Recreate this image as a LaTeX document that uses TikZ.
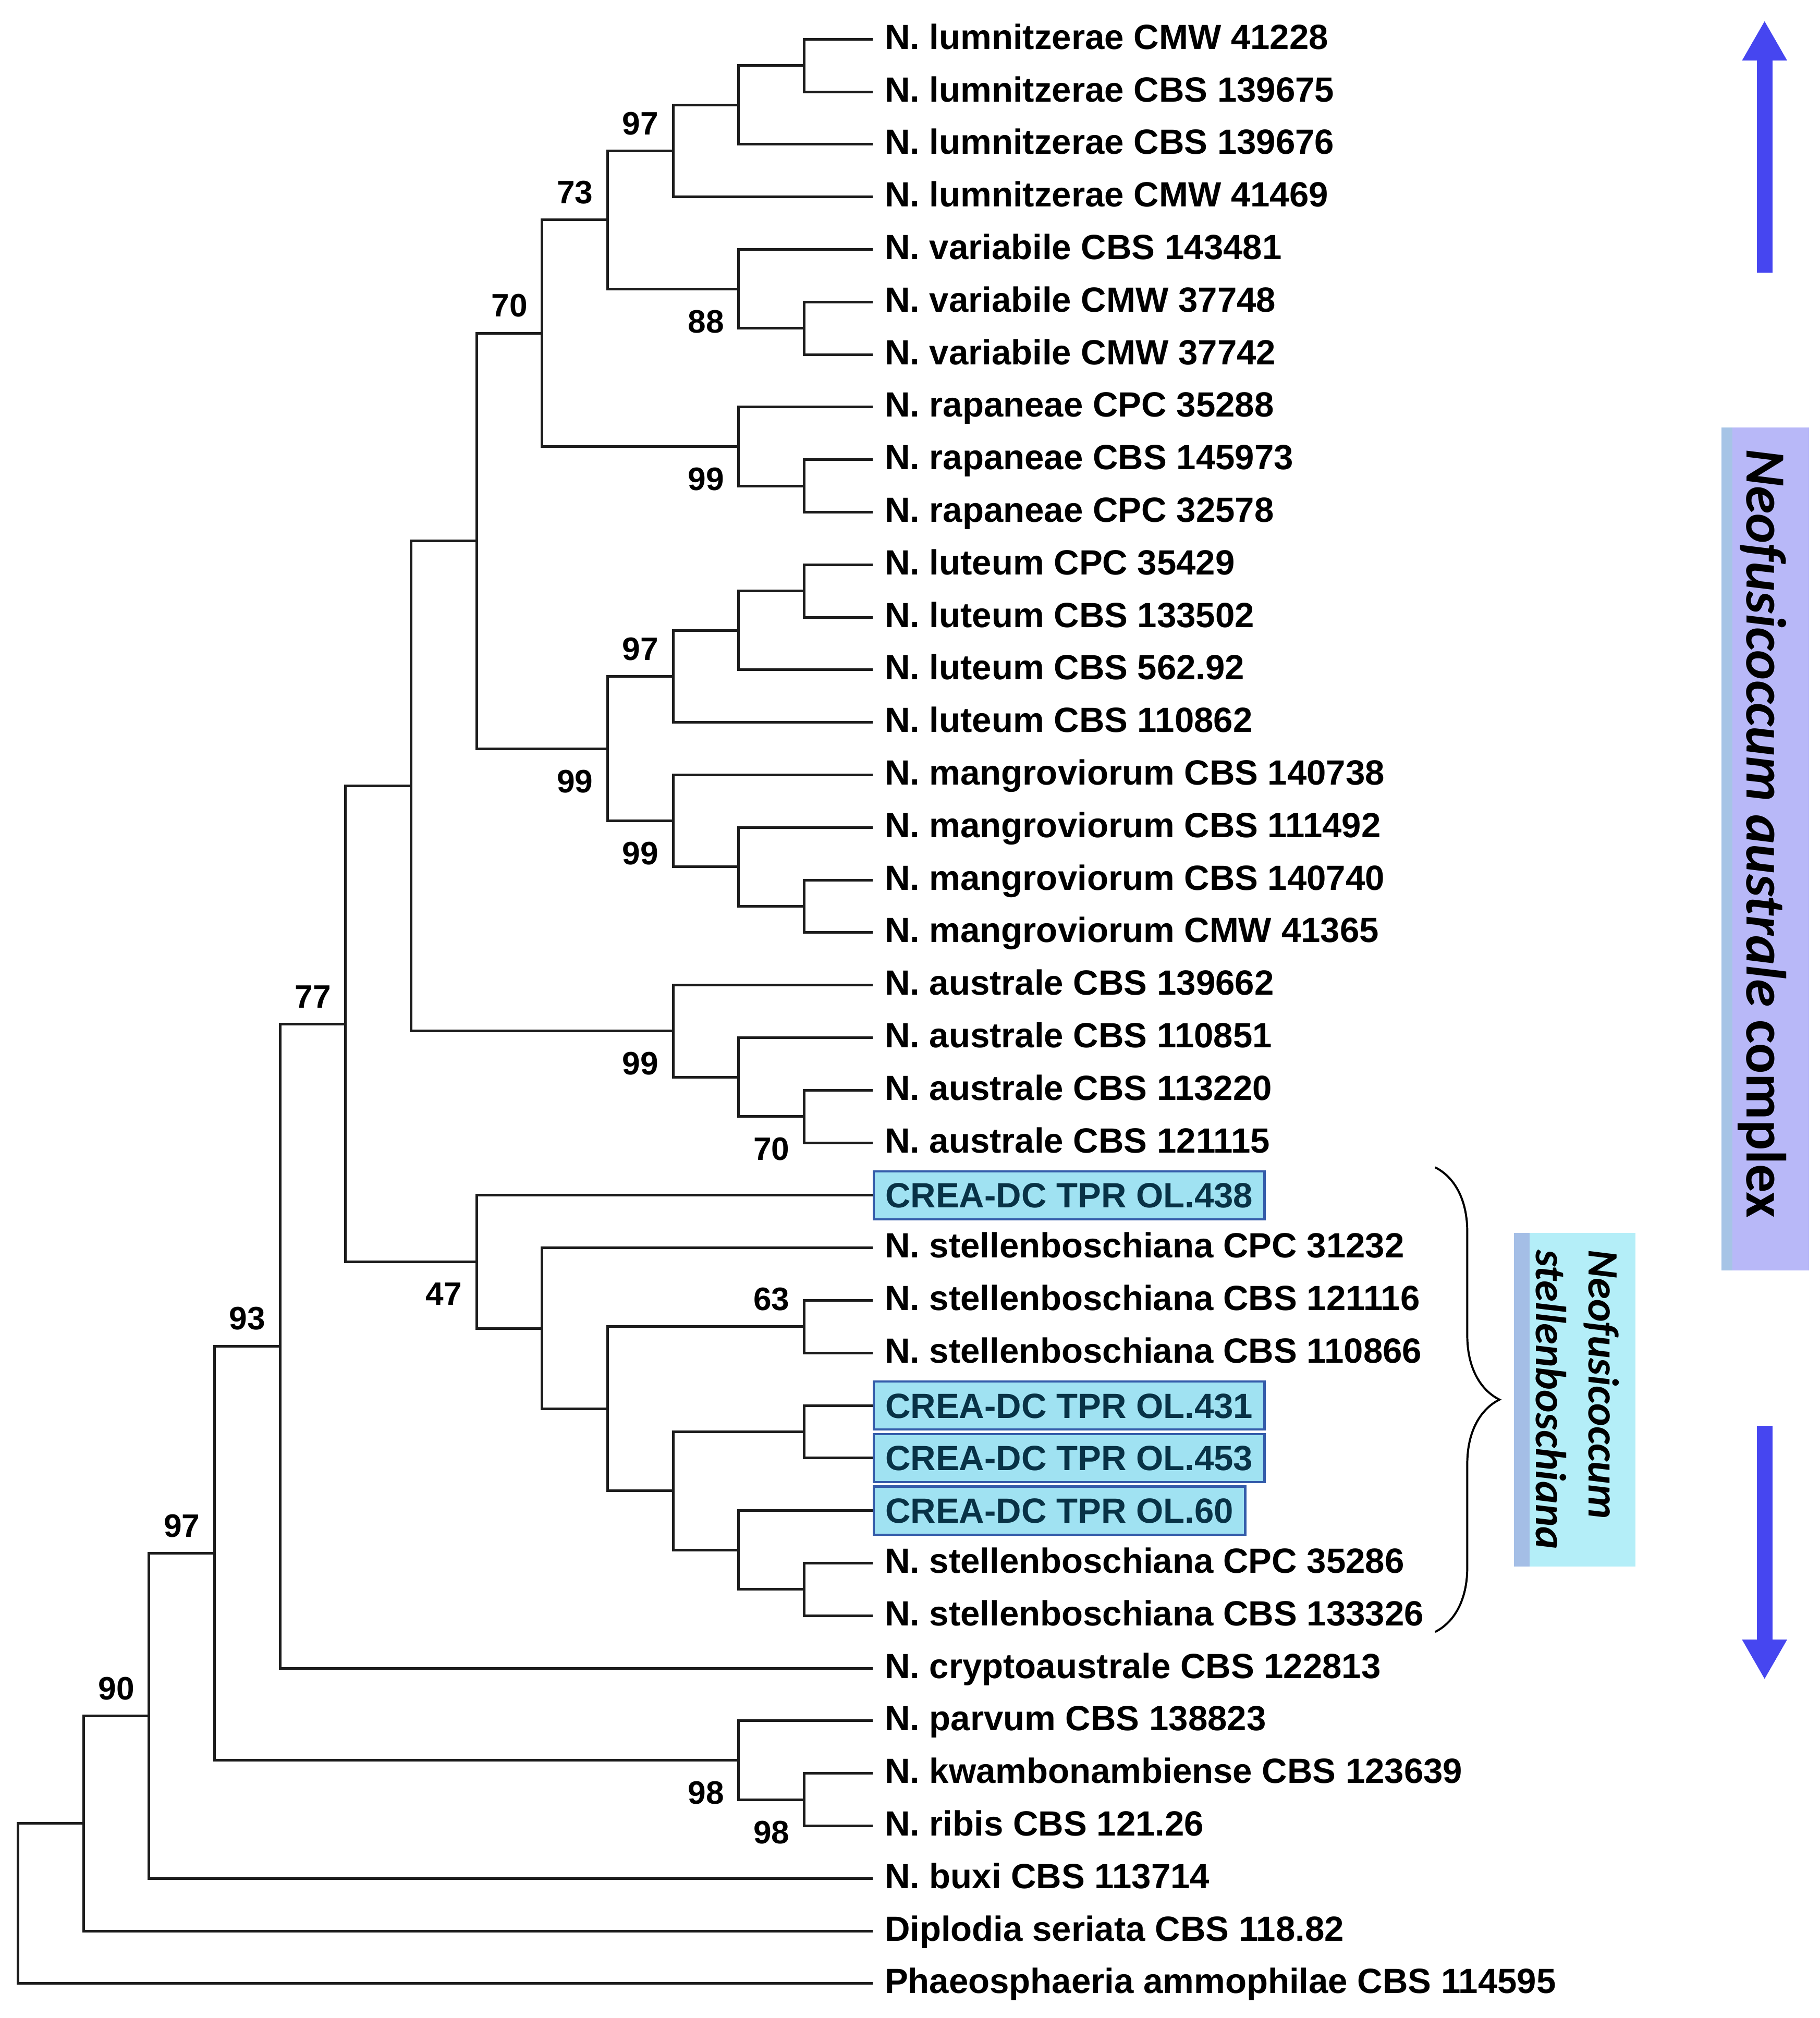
\documentclass[tikz,border=0pt]{standalone}
\usepackage{fontspec}
\setmainfont{Liberation Sans}
\newfontfamily\calfont{Carlito}
\usetikzlibrary{arrows.meta,decorations.pathreplacing}

\definecolor{treeline}{RGB}{28,28,28}
\definecolor{isofill}{RGB}{160,226,242}
\definecolor{isodraw}{RGB}{52,92,170}
\definecolor{isotext}{RGB}{8,50,70}
\definecolor{cplxfill}{RGB}{184,184,248}
\definecolor{cplxstrip}{RGB}{166,196,230}
\definecolor{stelfill}{RGB}{180,238,248}
\definecolor{stelstrip}{RGB}{164,190,230}
\definecolor{arrowblue}{RGB}{70,70,240}

\tikzset{
  leaf/.style={anchor=west, inner xsep=4.5pt, inner ysep=0pt, text height=9.7pt,
    text depth=2pt, font=\bfseries\fontsize{13.6}{16}\selectfont},
  isolate/.style={leaf, draw=isodraw, line width=0.9pt, fill=isofill, text=isotext,
    text depth=0pt, inner ysep=4.5pt},
  bs/.style={inner sep=0pt, xshift=-5.5pt, font=\bfseries\fontsize{12.6}{15}\selectfont},
  bsup/.style={bs, anchor=south east, yshift=6pt},
  bsdn/.style={bs, anchor=north east, yshift=-8pt},
  cladebrace/.style={decorate, decoration={brace, amplitude=25pt}, line width=0.8pt},
  bigarrow/.style={draw=arrowblue, line width=6pt, -{Triangle[width=16.3pt,length=15.5pt]}}
}

\begin{document}
\begin{tikzpicture}[x=25.45pt, y=-20.415pt]
  % frame and side marks, in pixel units
  \begin{scope}[shift={(-0.275,0.253)}, x=0.5pt, y=-0.5pt]
    \path[use as bounding box, fill=white] (0,0) rectangle (1414,1568);
    \fill[cplxfill] (1337.5,332) rectangle (1405.5,987);
    \fill[cplxstrip] (1337.5,332) rectangle (1346,987);
    \node[rotate=-90, font=\calfont\bfseries\fontsize{22}{26}\selectfont] (cplx) at (1369,647.5)
      {\textit{Neofusicoccum australe} complex};
    \fill[stelfill] (1176.4,958) rectangle (1270.8,1217);
    \fill[stelstrip] (1176.4,958) rectangle (1188.5,1217);
    \node[rotate=-90, align=left, inner sep=0pt,
      font=\calfont\bfseries\itshape\fontsize{16.8}{20.5}\selectfont] (stel) at (1225.5,1087.5)
      {Neofusicoccum\\stellenboschiana};
    \coordinate (brTop) at (1115,907);
    \coordinate (brBot) at (1115,1268);
    \draw[cladebrace] (brTop) -- (brBot);
    \coordinate (upFrom) at (1371,212);
    \coordinate (upTo) at (1371,16);
    \draw[bigarrow] (upFrom) -- (upTo);
    \coordinate (dnFrom) at (1371,1108);
    \coordinate (dnTo) at (1371,1305);
    \draw[bigarrow] (dnFrom) -- (dnTo);
  \end{scope}

  % taxa
  \path
    (13.045,1) node[leaf] (1) {N. lumnitzerae CMW 41228}
    (13.045,2) node[leaf] (2) {N. lumnitzerae CBS 139675}
    (13.045,3) node[leaf] (3) {N. lumnitzerae CBS 139676}
    (13.045,4) node[leaf] (4) {N. lumnitzerae CMW 41469}
    (13.045,5) node[leaf] (5) {N. variabile CBS 143481}
    (13.045,6) node[leaf] (6) {N. variabile CMW 37748}
    (13.045,7) node[leaf] (7) {N. variabile CMW 37742}
    (13.045,8) node[leaf] (8) {N. rapaneae CPC 35288}
    (13.045,9) node[leaf] (9) {N. rapaneae CBS 145973}
    (13.045,10) node[leaf] (10) {N. rapaneae CPC 32578}
    (13.045,11) node[leaf] (11) {N. luteum CPC 35429}
    (13.045,12) node[leaf] (12) {N. luteum CBS 133502}
    (13.045,13) node[leaf] (13) {N. luteum CBS 562.92}
    (13.045,14) node[leaf] (14) {N. luteum CBS 110862}
    (13.045,15) node[leaf] (15) {N. mangroviorum CBS 140738}
    (13.045,16) node[leaf] (16) {N. mangroviorum CBS 111492}
    (13.045,17) node[leaf] (17) {N. mangroviorum CBS 140740}
    (13.045,18) node[leaf] (18) {N. mangroviorum CMW 41365}
    (13.045,19) node[leaf] (19) {N. australe CBS 139662}
    (13.045,20) node[leaf] (20) {N. australe CBS 110851}
    (13.045,21) node[leaf] (21) {N. australe CBS 113220}
    (13.045,22) node[leaf] (22) {N. australe CBS 121115}
    (13.045,23) node[isolate] (23) {CREA-DC TPR OL.438}
    (13.045,24) node[leaf] (24) {N. stellenboschiana CPC 31232}
    (13.045,25) node[leaf] (25) {N. stellenboschiana CBS 121116}
    (13.045,26) node[leaf] (26) {N. stellenboschiana CBS 110866}
    (13.045,27) node[isolate] (27) {CREA-DC TPR OL.431}
    (13.045,28) node[isolate] (28) {CREA-DC TPR OL.453}
    (13.045,29) node[isolate] (29) {CREA-DC TPR OL.60}
    (13.045,30) node[leaf] (30) {N. stellenboschiana CPC 35286}
    (13.045,31) node[leaf] (31) {N. stellenboschiana CBS 133326}
    (13.045,32) node[leaf] (32) {N. cryptoaustrale CBS 122813}
    (13.045,33) node[leaf] (33) {N. parvum CBS 138823}
    (13.045,34) node[leaf] (34) {N. kwambonambiense CBS 123639}
    (13.045,35) node[leaf] (35) {N. ribis CBS 121.26}
    (13.045,36) node[leaf] (36) {N. buxi CBS 113714}
    (13.045,37) node[leaf] (37) {Diplodia seriata CBS 118.82}
    (13.045,38) node[leaf] (38) {Phaeosphaeria ammophilae CBS 114595};

  % internal nodes (level, mean row of children)
  \coordinate (n1) at (12,1.5);
  \coordinate (n2) at (11,2.25);
  \coordinate (n3) at (10,3.125);
  \coordinate (n4) at (12,6.5);
  \coordinate (n5) at (11,5.75);
  \coordinate (n6) at (9,4.4375);
  \coordinate (n7) at (12,9.5);
  \coordinate (n8) at (11,8.75);
  \coordinate (n9) at (8,6.59375);
  \coordinate (n10) at (12,11.5);
  \coordinate (n11) at (11,12.25);
  \coordinate (n12) at (10,13.125);
  \coordinate (n13) at (12,17.5);
  \coordinate (n14) at (11,16.75);
  \coordinate (n15) at (10,15.875);
  \coordinate (n16) at (9,14.5);
  \coordinate (n17) at (7,10.546875);
  \coordinate (n18) at (12,21.5);
  \coordinate (n19) at (11,20.75);
  \coordinate (n20) at (10,19.875);
  \coordinate (n21) at (6,15.2109);
  \coordinate (n22) at (12,25.5);
  \coordinate (n23) at (12,27.5);
  \coordinate (n24) at (12,30.5);
  \coordinate (n25) at (11,29.75);
  \coordinate (n26) at (10,28.625);
  \coordinate (n27) at (9,27.0625);
  \coordinate (n28) at (8,25.53125);
  \coordinate (n29) at (7,24.265625);
  \coordinate (n30) at (5,19.7383);
  \coordinate (n31) at (4,25.8691);
  \coordinate (n32) at (12,34.5);
  \coordinate (n33) at (11,33.75);
  \coordinate (n34) at (3,29.8096);
  \coordinate (n35) at (2,32.9048);
  \coordinate (n36) at (1,34.9524);
  \coordinate (n37) at (0,36.4762);

  \begin{scope}[color=treeline, line width=1pt]
    \draw (n1) |- (1);
    \draw (n1) |- (2);
    \draw (n2) |- (n1);
    \draw (n2) |- (3);
    \draw (n3) |- (n2);
    \draw (n3) |- (4);
    \draw (n4) |- (6);
    \draw (n4) |- (7);
    \draw (n5) |- (5);
    \draw (n5) |- (n4);
    \draw (n6) |- (n3);
    \draw (n6) |- (n5);
    \draw (n7) |- (9);
    \draw (n7) |- (10);
    \draw (n8) |- (8);
    \draw (n8) |- (n7);
    \draw (n9) |- (n6);
    \draw (n9) |- (n8);
    \draw (n10) |- (11);
    \draw (n10) |- (12);
    \draw (n11) |- (n10);
    \draw (n11) |- (13);
    \draw (n12) |- (n11);
    \draw (n12) |- (14);
    \draw (n13) |- (17);
    \draw (n13) |- (18);
    \draw (n14) |- (16);
    \draw (n14) |- (n13);
    \draw (n15) |- (15);
    \draw (n15) |- (n14);
    \draw (n16) |- (n12);
    \draw (n16) |- (n15);
    \draw (n17) |- (n9);
    \draw (n17) |- (n16);
    \draw (n18) |- (21);
    \draw (n18) |- (22);
    \draw (n19) |- (20);
    \draw (n19) |- (n18);
    \draw (n20) |- (19);
    \draw (n20) |- (n19);
    \draw (n21) |- (n17);
    \draw (n21) |- (n20);
    \draw (n22) |- (25);
    \draw (n22) |- (26);
    \draw (n23) |- (27);
    \draw (n23) |- (28);
    \draw (n24) |- (30);
    \draw (n24) |- (31);
    \draw (n25) |- (29);
    \draw (n25) |- (n24);
    \draw (n26) |- (n23);
    \draw (n26) |- (n25);
    \draw (n27) |- (n22);
    \draw (n27) |- (n26);
    \draw (n28) |- (24);
    \draw (n28) |- (n27);
    \draw (n29) |- (23);
    \draw (n29) |- (n28);
    \draw (n30) |- (n21);
    \draw (n30) |- (n29);
    \draw (n31) |- (n30);
    \draw (n31) |- (32);
    \draw (n32) |- (34);
    \draw (n32) |- (35);
    \draw (n33) |- (33);
    \draw (n33) |- (n32);
    \draw (n34) |- (n31);
    \draw (n34) |- (n33);
    \draw (n35) |- (n34);
    \draw (n35) |- (36);
    \draw (n36) |- (n35);
    \draw (n36) |- (37);
    \draw (n37) |- (n36);
    \draw (n37) |- (38);
  \end{scope}

  % bootstrap values
  \node[bsup] (s1) at (n3) {97};
  \node[bsdn] (s2) at (n5) {88};
  \node[bsup] (s3) at (n6) {73};
  \node[bsdn] (s4) at (n8) {99};
  \node[bsup] (s5) at (n9) {70};
  \node[bsup] (s6) at (n12) {97};
  \node[bsdn] (s7) at (n15) {99};
  \node[bsdn] (s8) at (n16) {99};
  \node[bsdn] (s9) at (n18) {70};
  \node[bsdn] (s10) at (n20) {99};
  \node[bsup] (s11) at (n22) {63};
  \node[bsdn] (s12) at (n29) {47};
  \node[bsup] (s13) at (n30) {77};
  \node[bsup] (s14) at (n31) {93};
  \node[bsdn] (s15) at (n32) {98};
  \node[bsdn] (s16) at (n33) {98};
  \node[bsup] (s17) at (n34) {97};
  \node[bsup] (s18) at (n35) {90};
\end{tikzpicture}
\end{document}
